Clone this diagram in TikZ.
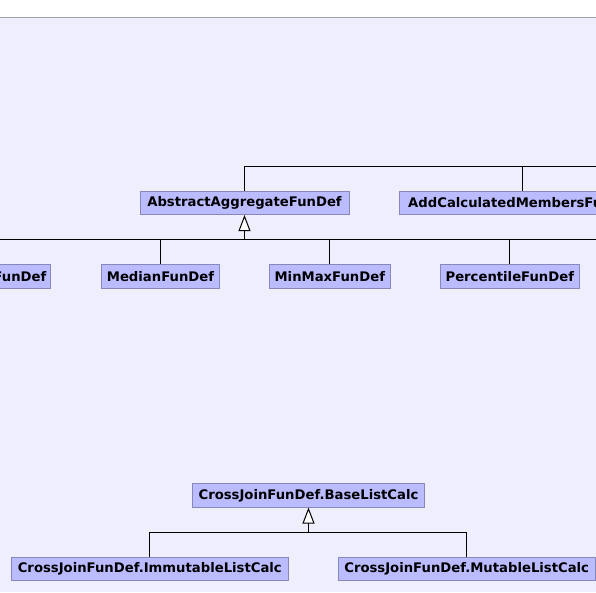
\documentclass[tikz,border=0pt]{standalone}
\usepackage{fontspec}
\setmainfont{DejaVu Sans}
\usetikzlibrary{arrows.meta}
\definecolor{bgcol}{RGB}{238,238,252}
\definecolor{boxfill}{RGB}{187,187,255}
\definecolor{boxline}{RGB}{136,136,184}
\definecolor{topline}{RGB}{160,160,172}
\tikzset{
  cls/.style={draw=boxline, fill=boxfill, line width=1pt, minimum height=23.5pt,
    inner xsep=0pt, inner ysep=0pt, font=\fontsize{13.2}{15}\selectfont\bfseries},
  conn/.style={draw=black, line width=1pt},
  inh/.style={draw=black, line width=1pt, -{Triangle[length=16pt,width=12pt,fill=white]}}
}
\begin{document}
\begin{tikzpicture}[x=1pt,y=-1pt]
\useasboundingbox (0,0) rectangle (596,592);
\clip (0,0) rectangle (596,592);
\fill[white] (0,0) rectangle (596,17);
\fill[bgcol] (0,17) rectangle (596,592);
\draw[topline, line width=1.2pt] (0,17.3) -- (596,17.3);

% nodes
\node[cls, minimum width=209pt] (abs) at (244.5,202.8) {AbstractAggregateFunDef};
\node[cls, minimum width=246.8pt] (addc) at (522.7,202.8) {AddCalculatedMembersFunDef};
\node[cls, inner xsep=4.5pt, anchor=east] (lft) at (51.3,276.3) {FunDef};
\node[cls, minimum width=118.4pt] (med) at (160.5,276.3) {MedianFunDef};
\node[cls, minimum width=121pt] (minmax) at (329.8,276.3) {MinMaxFunDef};
\node[cls, minimum width=139pt] (perc) at (509.8,276.3) {PercentileFunDef};
\node[cls, minimum width=232.4pt] (base) at (308.5,495.3) {CrossJoinFunDef.BaseListCalc};
\node[cls, minimum width=277pt] (immut) at (149.8,569) {CrossJoinFunDef.ImmutableListCalc};
\node[cls, minimum width=256.7pt] (mut) at (466.7,569) {CrossJoinFunDef.MutableListCalc};

% junction coordinates
\coordinate (hTop) at (596,166);
\coordinate (hMidL) at (0,239);
\coordinate (hMidR) at (596,239);
\coordinate (hBot) at (0,532.3);

% connectors
\draw[conn] (abs.north) |- (hTop);
\draw[conn] (addc.north) -- (addc.north |- hTop);
\draw[conn] (hMidL) -- (hMidR);
\draw[inh] (abs.south |- hMidL) -- (abs.south);
\draw[conn] (med.north) -- (med.north |- hMidL);
\draw[conn] (minmax.north) -- (minmax.north |- hMidL);
\draw[conn] (perc.north) -- (perc.north |- hMidL);
\draw[conn] (immut.north) |- (mut.north |- hBot) -- (mut.north);
\draw[inh] (base.south |- hBot) -- (base.south);
\end{tikzpicture}
\end{document}
